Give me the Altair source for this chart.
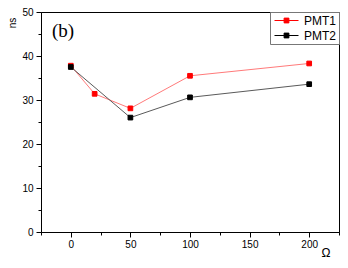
import altair as alt
import pandas as pd

# Data
pmt1_x = [0, 20, 50, 100, 200]
pmt1_y = [37.8, 31.4, 28.1, 35.5, 38.3]
pmt2_x = [0, 50, 100, 200]
pmt2_y = [37.5, 26.0, 30.6, 33.6]
series_names = ["PMT1", "PMT2"]
x_ticks = [-25, 0, 25, 50, 75, 100, 125, 150, 175, 200, 225]
y_ticks = [0, 5, 10, 15, 20, 25, 30, 35, 40, 45, 50]

rows = []
for xv, yv in zip(pmt1_x, pmt1_y):
    rows.append({"series": "PMT1", "x": xv, "y": yv})
for xv, yv in zip(pmt2_x, pmt2_y):
    rows.append({"series": "PMT2", "x": xv, "y": yv})
df = pd.DataFrame(rows)

W, H = 298, 220
FONT = "Liberation Sans"

x_enc = alt.X(
    "x:Q",
    scale=alt.Scale(domain=[-25, 225], nice=False, zero=False),
    axis=alt.Axis(
        values=x_ticks,
        labelExpr="(datum.value % 50 === 0) ? format(datum.value, 'd') : ''",
        tickSize={"condition": {"test": "datum.value % 50 === 0", "value": 5}, "value": 3},
        title=None,
        grid=False,
        labelPadding=2,
        labelFont=FONT,
        labelFontSize=10,
        labelColor="#000",
        domainColor="#000",
        tickColor="#000",
        labelFlush=False,
        labelOverlap=False,
        labelAngle=0,
        labelAlign="center",
        labelBaseline="top",
    ),
)
y_enc = alt.Y(
    "y:Q",
    scale=alt.Scale(domain=[0, 50], nice=False),
    axis=alt.Axis(
        values=y_ticks,
        labelExpr="datum.value % 10 === 0 ? datum.label : ''",
        tickSize={"condition": {"test": "datum.value % 10 === 0", "value": 5}, "value": 3},
        title=None,
        grid=False,
        labelPadding=3,
        labelFont=FONT,
        labelFontSize=10,
        labelColor="#000",
        domainColor="#000",
        tickColor="#000",
        labelFlush=False,
        labelOverlap=False,
    ),
)

lines = alt.Chart(df).mark_line(strokeWidth=1).encode(
    x=x_enc,
    y=y_enc,
    color=alt.Color(
        "series:N",
        scale=alt.Scale(domain=series_names, range=["#ff7a7a", "#5a5a5a"]),
        legend=None,
    ),
)

marker_scale = alt.Scale(domain=series_names, range=["#ff0000", "#000000"])
points = alt.Chart(df).mark_point(
    shape="square", size=22, opacity=1, filled=True, strokeWidth=1
).encode(
    x=x_enc,
    y=y_enc,
    fill=alt.Fill(
        "series:N",
        scale=marker_scale,
        legend=alt.Legend(
            title=None,
            orient="top-right",
            offset=0,
            symbolType="M-2,0H2M-0.4,-0.4H0.4V0.4H-0.4Z",
            symbolSize=144,
            symbolStrokeWidth=1,
            symbolOffset=8,
            labelFont=FONT,
            labelFontSize=12,
            labelColor="#000",
            strokeColor="#777",
            fillColor="white",
            padding=2,
            rowPadding=2,
            labelOffset=11,
        ),
    ),
    stroke=alt.Stroke("series:N", scale=marker_scale, legend=None),
)

label_b = alt.Chart(pd.DataFrame({"t": ["(b)"]})).mark_text(
    font="Liberation Serif", fontSize=19, align="center", baseline="middle", color="#000"
).encode(text="t:N", x=alt.value(22), y=alt.value(19))

label_ns = alt.Chart(pd.DataFrame({"t": ["ns"]})).mark_text(
    font=FONT, fontSize=10, align="center", baseline="middle", angle=270, color="#000"
).encode(text="t:N", x=alt.value(-28), y=alt.value(11))

label_om = alt.Chart(pd.DataFrame({"t": ["Ω"]})).mark_text(
    font=FONT, fontSize=12, align="center", baseline="middle", color="#000"
).encode(text="t:N", x=alt.value(285), y=alt.value(H + 21))

chart = (
    alt.layer(lines, points, label_b, label_ns, label_om)
    .resolve_scale(color="independent")
    .properties(
        width=W,
        height=H,
        autosize=alt.AutoSizeParams(type="none"),
        padding={"left": 33, "top": 4, "right": 1, "bottom": 28},
        background="white",
    )
    .configure_view(stroke="#000", strokeWidth=1)
)

chart.save("out.html", embed_options={"renderer": "svg", "actions": False})
